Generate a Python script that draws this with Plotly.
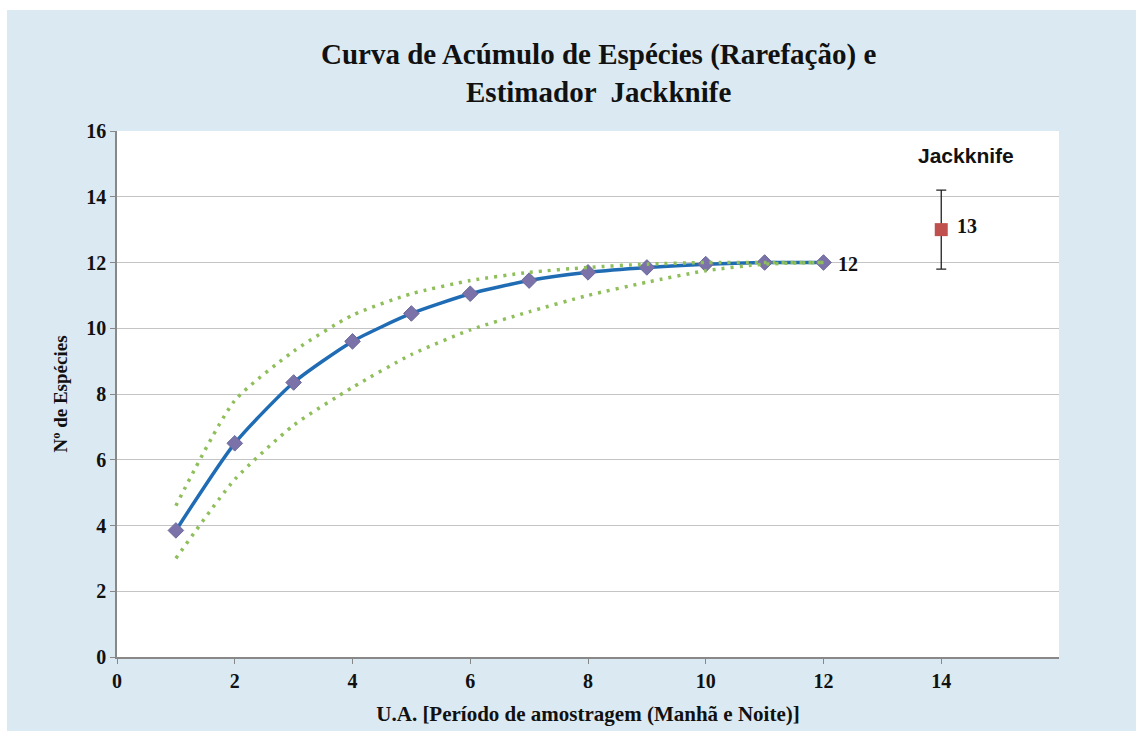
import plotly.graph_objects as go

# Sampling units (morning and night periods)
ua = [1, 2, 3, 4, 5, 6, 7, 8, 9, 10, 11, 12]
# Rarefied species accumulation (mean) and its confidence bounds
especies = [3.85, 6.5, 8.35, 9.6, 10.45, 11.05, 11.45, 11.7, 11.85, 11.95, 12.0, 12.0]
limite_sup = [4.6, 7.8, 9.3, 10.4, 11.05, 11.45, 11.7, 11.85, 11.95, 12.0, 12.0, 12.0]
limite_inf = [3.0, 5.4, 7.05, 8.2, 9.2, 9.95, 10.5, 11.0, 11.4, 11.75, 11.95, 12.0]

# Jackknife estimator
jack_x = [14]
jack_y = [13]
jack_err = [1.2]

x_ticks = [0, 2, 4, 6, 8, 10, 12, 14]
y_ticks = [0, 2, 4, 6, 8, 10, 12, 14, 16]

SERIF = "Liberation Serif"
SANS = "Liberation Sans"
BLUE_BG = "#dbeaf2"
INK = "#111111"

fig = go.Figure()

fig.add_trace(go.Scatter(
    x=ua, y=especies, mode="lines+markers",
    line=dict(color="#1f6cb4", width=3.5, shape="spline", smoothing=0.6),
    marker=dict(symbol="diamond", size=12, color="#7a72a8",
                line=dict(color="#6a6a9a", width=1)),
    hoverinfo="x+y", showlegend=False,
))
for serie in (limite_sup, limite_inf):
    fig.add_trace(go.Scatter(
        x=ua, y=serie, mode="lines",
        line=dict(color="#8fbf5a", width=3.5, dash="3px,6px",
                  shape="spline", smoothing=0.6),
        hoverinfo="skip", showlegend=False,
    ))

fig.add_trace(go.Scatter(
    x=jack_x, y=jack_y, mode="markers",
    marker=dict(symbol="square", size=13, color="#c0504d"),
    error_y=dict(type="data", array=jack_err, visible=True,
                 color="#222222", thickness=1.3, width=5),
    showlegend=False,
))

# Value labels next to the last point and the estimator
fig.add_annotation(x=ua[-1], y=especies[-1], text=f"{especies[-1]:.0f}",
                   showarrow=False, xanchor="left", xshift=12, yshift=-1,
                   font=dict(family=SERIF, size=20, color=INK, weight="bold"))
fig.add_annotation(x=jack_x[0], y=jack_y[0], text=f"{jack_y[0]}",
                   showarrow=False, xanchor="left", xshift=14, yshift=4,
                   font=dict(family=SERIF, size=20, color=INK, weight="bold"))
fig.add_annotation(x=jack_x[0], y=15.25, text="Jackknife",
                   showarrow=False, xanchor="center", xshift=25,
                   font=dict(family=SANS, size=21, color=INK, weight="bold"))

# White strips along the top and left edges of the frame
fig.add_shape(type="rect", xref="paper", yref="paper",
              x0=-0.2, x1=1.2, y0=1.230, y1=1.4,
              fillcolor="white", line=dict(width=0), layer="above")
fig.add_shape(type="rect", xref="paper", yref="paper",
              x0=-0.2, x1=-0.1168, y0=-0.3, y1=1.4,
              fillcolor="white", line=dict(width=0), layer="above")

fig.update_layout(
    width=1136, height=731,
    margin=dict(l=117, r=77, t=131, b=74),
    paper_bgcolor=BLUE_BG, plot_bgcolor="white",
    title=dict(
        text="Curva de Acúmulo de Espécies (Rarefação) e<br>Estimador  Jackknife",
        x=0.527, xanchor="center", y=0.912, yanchor="middle",
        font=dict(family=SERIF, size=29, color=INK, weight="bold"),
    ),
    xaxis=dict(
        range=[0, 16], tickvals=x_ticks, automargin=False,
        showgrid=False, zeroline=False, showline=True, linecolor="#888888",
        linewidth=1.5, ticks="outside", ticklen=5, tickcolor="#888888",
        tickfont=dict(family=SERIF, size=20, color=INK, weight="bold"),
        title=dict(text="U.A. [Período de amostragem (Manhã e Noite)]",
                   standoff=16, font=dict(family=SERIF, size=21, color=INK, weight="bold")),
    ),
    yaxis=dict(
        range=[0, 16], tickvals=y_ticks, automargin=False,
        showgrid=True, gridcolor="#c4c4c4", gridwidth=1.2, zeroline=False,
        showline=True, linecolor="#888888", linewidth=1.5,
        ticks="outside", ticklen=5, tickcolor="#888888",
        tickfont=dict(family=SERIF, size=20, color=INK, weight="bold"),
        title=dict(text="Nº de Espécies", standoff=14,
                   font=dict(family=SERIF, size=19, color=INK, weight="bold")),
    ),
)

fig.write_html("out.html")
